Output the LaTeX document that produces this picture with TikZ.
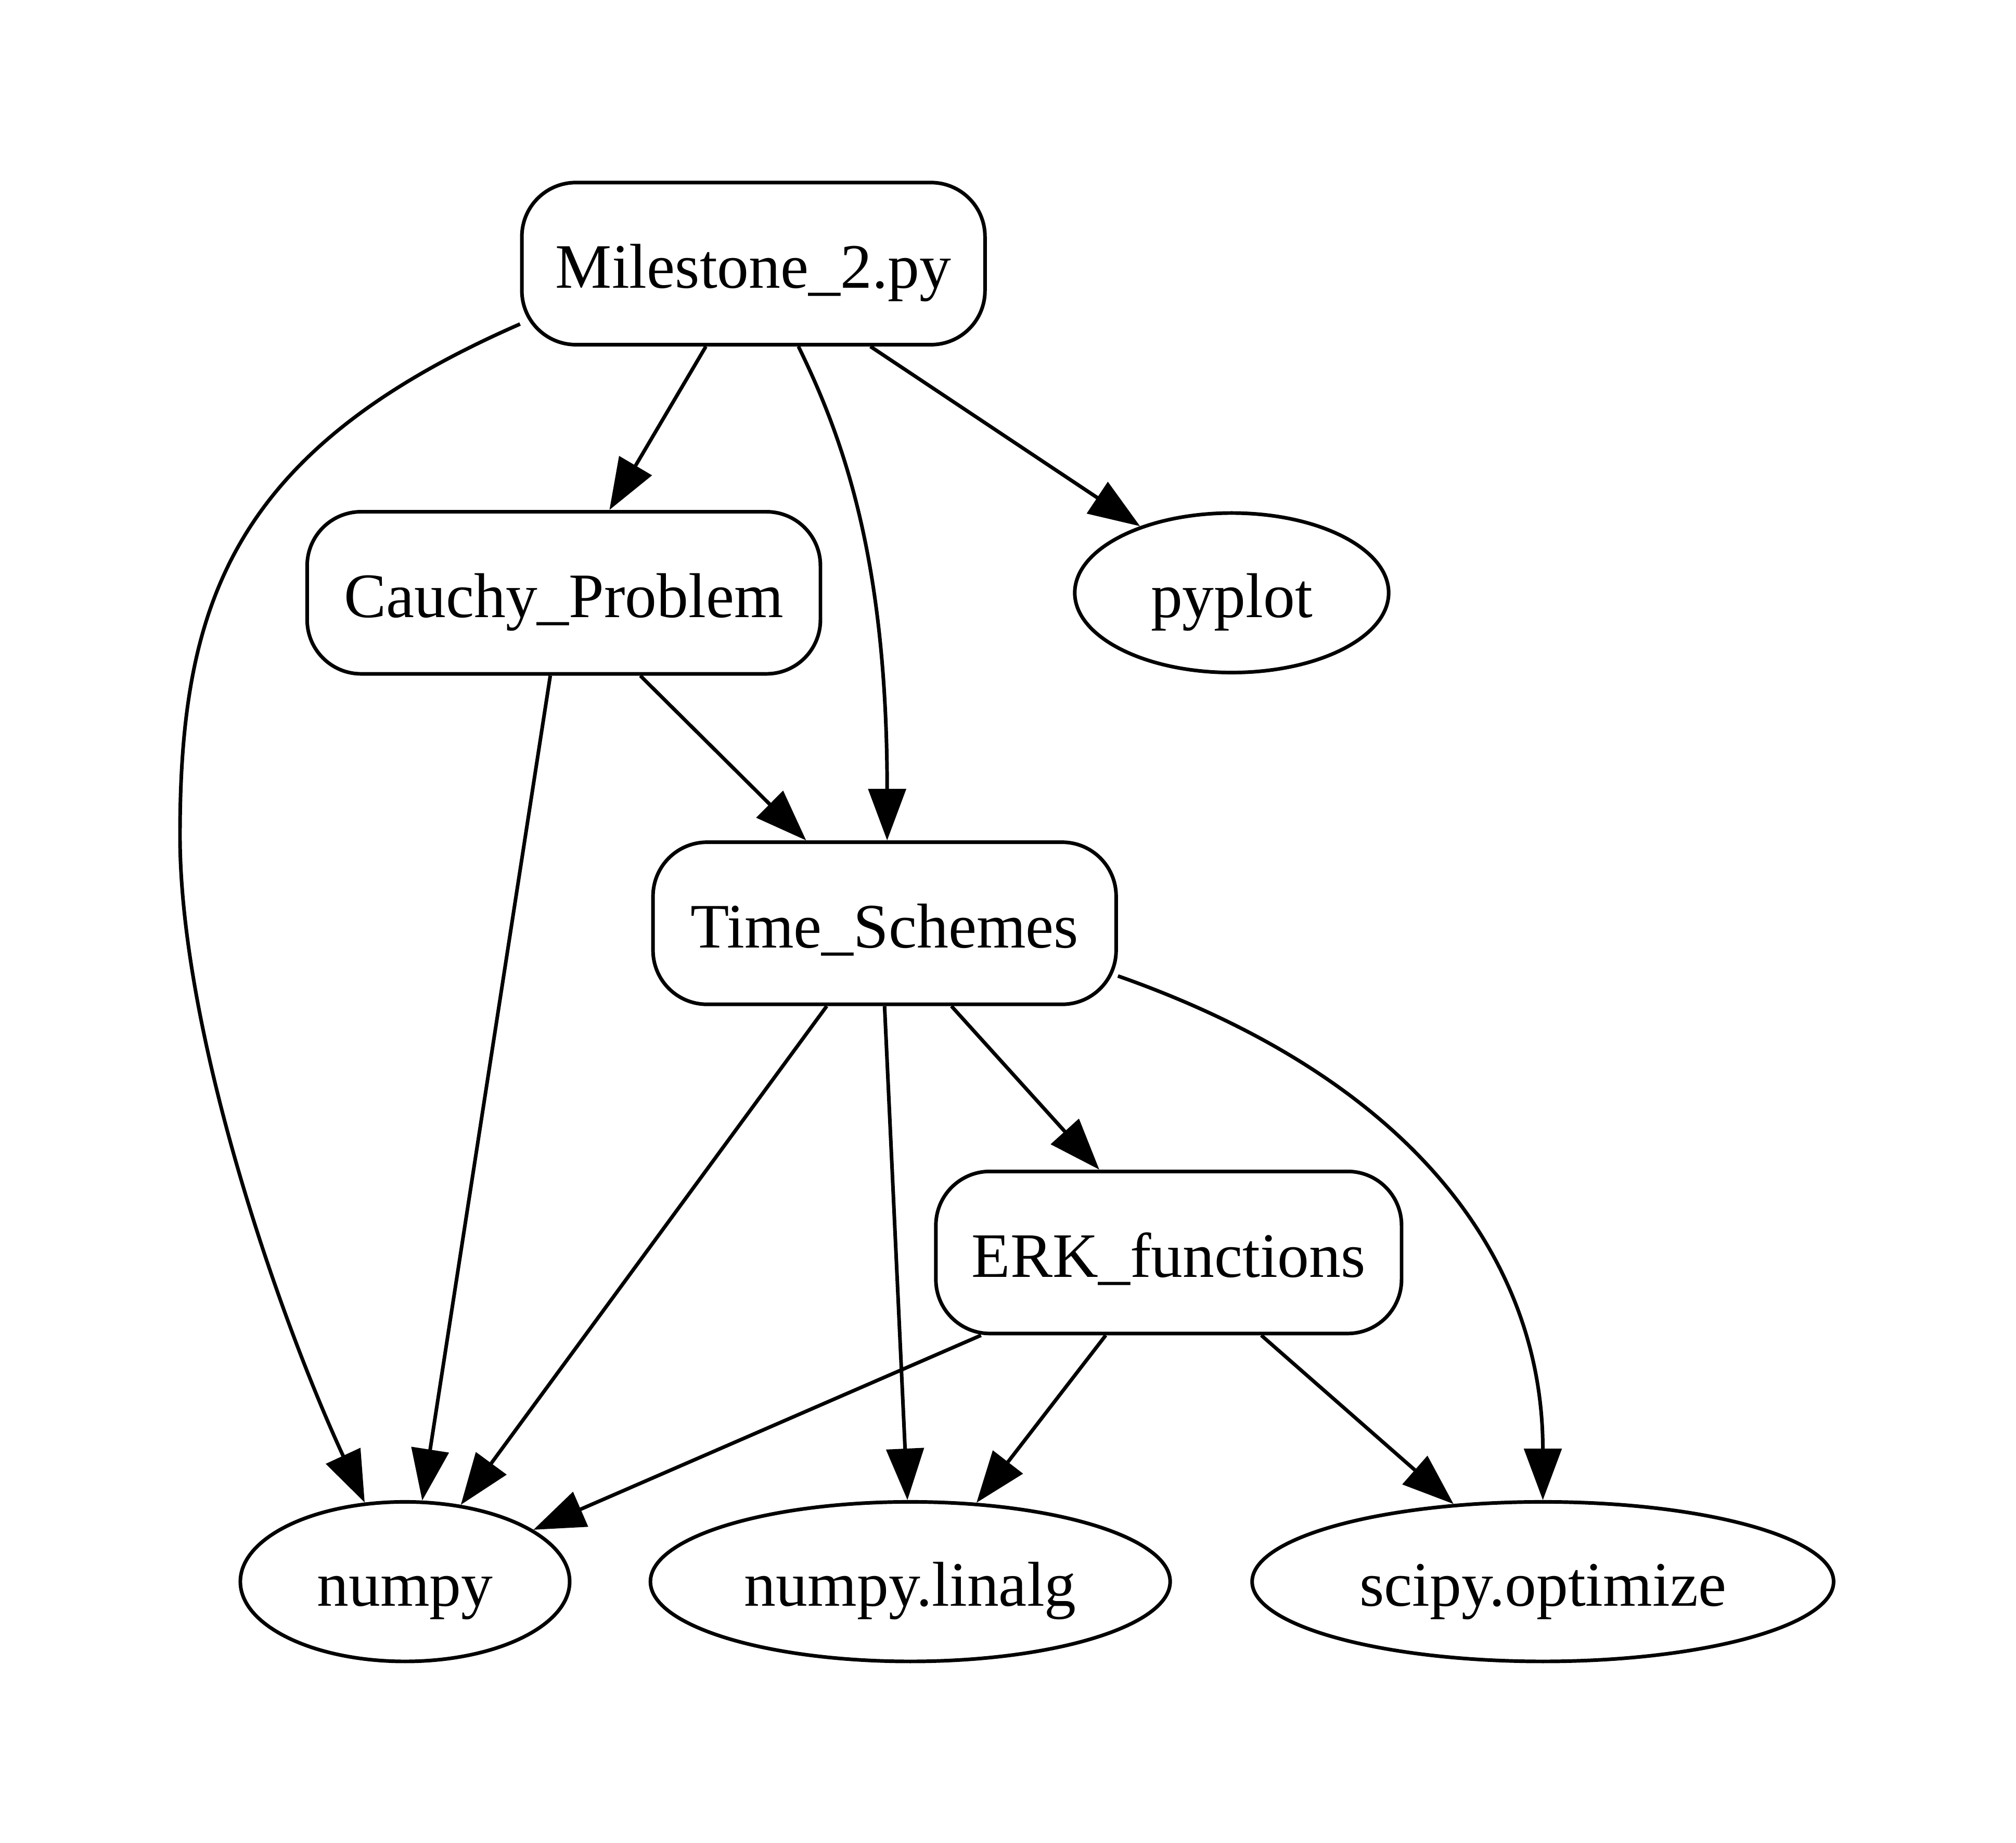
\documentclass[tikz,border=0pt]{standalone}
\usepackage{fontspec}
\setmainfont{Liberation Serif}
\usetikzlibrary{arrows.meta,calc,shapes.geometric}
\begin{document}
\begin{tikzpicture}[x=0.01cm,y=-0.01cm,
  every node/.style={font=\fontsize{14pt}{16pt}\selectfont, text height=0.48cm, text depth=0.10cm},
  mod/.style={draw, line width=0.8pt, rounded corners=0.42cm, minimum height=1.26cm, inner sep=0pt},
  ext/.style={draw, ellipse, line width=0.8pt, minimum height=1.24cm, inner sep=0pt},
  dep/.style={line width=0.8pt, -{Triangle[length=0.40cm,width=0.29cm]}}]
\useasboundingbox (0,0) rectangle (1568,1433);
\fill[white] (0,0) rectangle (1568,1433);
% nodes
\node[mod, minimum width=3.60cm] (m) at (586,205) {Milestone\_2.py};
\node[mod, minimum width=3.99cm] (c) at (438.5,461) {Cauchy\_Problem};
\node[ext, minimum width=2.44cm] (p) at (958,461) {pyplot};
\node[mod, minimum width=3.60cm] (t) at (688,718) {Time\_Schemes};
\node[mod, minimum width=3.62cm] (e) at (909,974) {ERK\_functions};
\node[ext, minimum width=2.56cm] (n) at (315,1230) {numpy};
\node[ext, minimum width=4.04cm] (l) at (708,1230) {numpy.linalg};
\node[ext, minimum width=4.52cm] (s) at (1200,1230) {scipy.optimize};
% edges
\draw[dep] ($(m.south)+(-37,0)$) -- ($(c.north)+(35.5,0)$);
\draw[dep] ($(m.south)+(35,0)$) .. controls (658,345) and (690,440) .. ($(t.north)+(2,0)$);
\draw[dep] ($(m.south)+(91,0)$) -- (p.144);
\draw[dep] ($(m.west)+(0,47)$) .. controls (180,350) and (140,470) .. (140,650)
  .. controls (140,800) and (215,1020) .. (n.117);
\draw[dep] ($(c.south)+(-10.5,0)$) -- (n.78);
\draw[dep] ($(c.south)+(59.5,0)$) -- ($(t.north)+(-61,0)$);
\draw[dep] ($(t.south)+(-45,0)$) -- (n.54);
\draw[dep] (t.south) -- (l.92);
\draw[dep] ($(t.south)+(52,0)$) -- ($(e.north)+(-54,0)$);
\draw[dep] ($(t.east)+(0,41)$) .. controls (1100,840) and (1200,980) .. (s.north);
\draw[dep] ($(e.south)+(-146,0)$) -- (n.22);
\draw[dep] ($(e.south)+(-49,0)$) -- (l.50);
\draw[dep] ($(e.south)+(72,0)$) -- (s.139);
\end{tikzpicture}
\end{document}
